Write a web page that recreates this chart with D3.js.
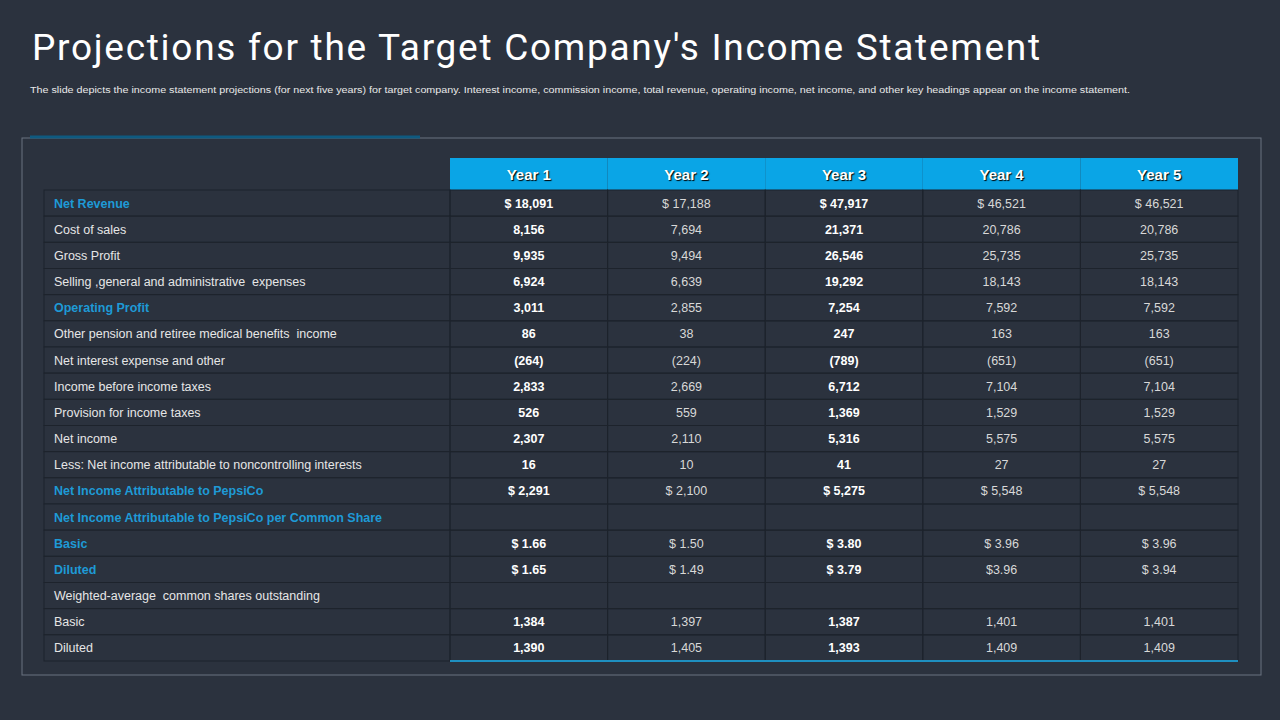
<!DOCTYPE html>
<html><head><meta charset="utf-8">
<script src="https://cdn.jsdelivr.net/npm/d3@7"></script>
<style>body{margin:0;background:#2b323e;}svg{display:block;}</style>
</head><body>
<script>
const years = ["Year 1","Year 2","Year 3","Year 4","Year 5"];
const rowLabels = ["Net Revenue","Cost of sales","Gross Profit","Selling ,general and administrative  expenses","Operating Profit","Other pension and retiree medical benefits  income","Net interest expense and other","Income before income taxes","Provision for income taxes","Net income","Less: Net income attributable to noncontrolling interests","Net Income Attributable to PepsiCo","Net Income Attributable to PepsiCo per Common Share","Basic","Diluted","Weighted-average  common shares outstanding","Basic","Diluted"];
const highlighted = [0,4,11,12,13,14];
const boldYears = [0,2];
const year1 = ["$ 18,091","8,156","9,935","6,924","3,011","86","(264)","2,833","526","2,307","16","$ 2,291","","$ 1.66","$ 1.65","","1,384","1,390"];
const year2 = ["$ 17,188","7,694","9,494","6,639","2,855","38","(224)","2,669","559","2,110","10","$ 2,100","","$ 1.50","$ 1.49","","1,397","1,405"];
const year3 = ["$ 47,917","21,371","26,546","19,292","7,254","247","(789)","6,712","1,369","5,316","41","$ 5,275","","$ 3.80","$ 3.79","","1,387","1,393"];
const year4 = ["$ 46,521","20,786","25,735","18,143","7,592","163","(651)","7,104","1,529","5,575","27","$ 5,548","","$ 3.96","$3.96","","1,401","1,409"];
const year5 = ["$ 46,521","20,786","25,735","18,143","7,592","163","(651)","7,104","1,529","5,575","27","$ 5,548","","$ 3.96","$ 3.94","","1,401","1,409"];
const cols = [year1,year2,year3,year4,year5];

const svg = d3.select("body").append("svg").attr("width",1280).attr("height",720);
const F = "'Liberation Sans', Arial, sans-serif";
svg.append("rect").attr("width",1280).attr("height",720).attr("fill","#2b323e");
svg.append("text").attr("x",32).attr("y",60).attr("fill","#ffffff").attr("font-family","Roboto, sans-serif").attr("font-size",37).attr("textLength",1008).attr("lengthAdjust","spacing").text("Projections for the Target Company's Income Statement");
svg.append("text").attr("x",30).attr("y",93).attr("fill","#e8e8e8").attr("font-family",F).attr("font-size",9.6).attr("textLength",1100).attr("lengthAdjust","spacingAndGlyphs").text("The slide depicts the income statement projections (for next five years) for target company. Interest income, commission income, total revenue, operating income, net income, and other key headings appear on the income statement.");
svg.append("rect").attr("x",22).attr("y",138).attr("width",1239).attr("height",537).attr("fill","none").attr("stroke","#6b7380").attr("stroke-width",1);
svg.append("line").attr("x1",30).attr("x2",420).attr("y1",137).attr("y2",137).attr("stroke","#0f5a80").attr("stroke-width",3);

const x = d3.scaleBand().domain(d3.range(5)).range([450,1238]);
const y = d3.scaleBand().domain(d3.range(rowLabels.length)).range([190,661]);
const left = 44;
svg.selectAll(".hd").data(years).join("rect").attr("x",(d,i)=>x(i)).attr("y",158).attr("width",x.bandwidth()).attr("height",32).attr("fill","#0aa5e6");
svg.selectAll(".ht").data(years).join("text").attr("x",(d,i)=>x(i)+x.bandwidth()/2).attr("y",180).attr("text-anchor","middle").attr("fill","#fff").attr("font-family",F).attr("font-weight","bold").attr("font-size",15).style("text-shadow","1px 1px 1px #000").text(d=>d);
const g = svg.append("g");
rowLabels.forEach((lab,r)=>{
  const yy=y(r), h=y.bandwidth();
  g.append("rect").attr("x",left).attr("y",yy).attr("width",450-left).attr("height",h).attr("fill","#2b323e").attr("stroke","#1d232c");
  g.append("text").attr("x",54).attr("y",yy+h/2+4.5).attr("fill",highlighted.includes(r)?"#1e9ad6":"#e6e6e6").attr("font-weight",highlighted.includes(r)?"bold":"normal").attr("font-family",F).attr("font-size",12.5).style("white-space","pre").text(lab);
  cols.forEach((c,i)=>{
    g.append("rect").attr("x",x(i)).attr("y",yy).attr("width",x.bandwidth()).attr("height",h).attr("fill","none").attr("stroke","#1d232c");
    g.append("text").attr("x",x(i)+x.bandwidth()/2).attr("y",yy+h/2+4.5).attr("text-anchor","middle").attr("fill",boldYears.includes(i)?"#ffffff":"#d8d8d8").attr("font-weight",boldYears.includes(i)?"bold":"normal").attr("font-family",F).attr("font-size",12.5).text(c[r]);
  });
});
svg.append("line").attr("x1",450).attr("x2",1238).attr("y1",661).attr("y2",661).attr("stroke","#1e8fc0").attr("stroke-width",2);
</script>
</body></html>
